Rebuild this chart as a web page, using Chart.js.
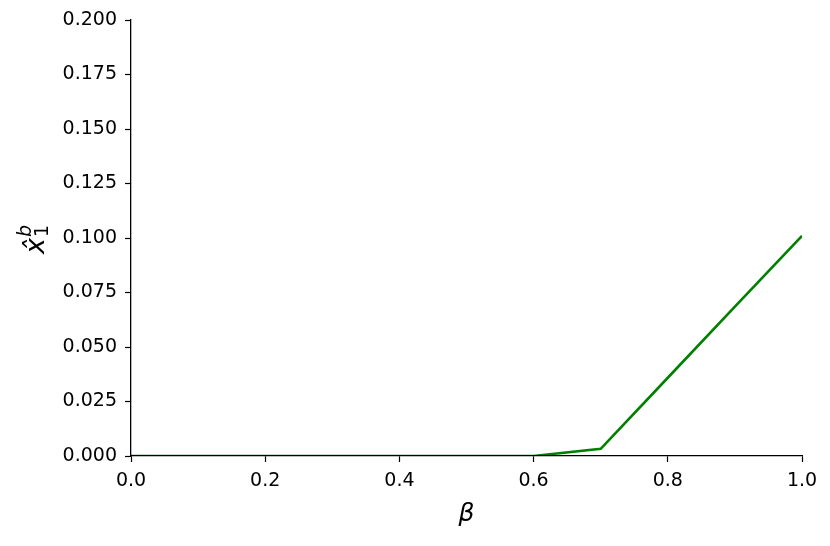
<!DOCTYPE html>
<html>
<head>
<meta charset="utf-8">
<script src="https://cdn.jsdelivr.net/npm/chart.js@4.4.0/dist/chart.umd.min.js"></script>
<style>
    html, body { margin: 0; padding: 0; background: #fff; }
    #wrap { width: 830px; height: 546px; }
</style>
</head>
<body>
<div id="wrap"><canvas id="betaChart" width="830" height="546"></canvas></div>
<script>
// 데이터
const betaValues = [0, 0.1, 0.2, 0.3, 0.4, 0.5, 0.6, 0.7, 0.8, 0.9, 1.0];
const xHat1b = [0, 0, 0, 0, 0, 0, 0, 0.0033, 0.0359, 0.0685, 0.1010];
const xTicks = [0, 0.2, 0.4, 0.6, 0.8, 1.0];
const yTicks = [0, 0.025, 0.05, 0.075, 0.1, 0.125, 0.15, 0.175, 0.2];

const FONT = "'DejaVu Sans', sans-serif";

// 축 제목 (수식 스타일) 그리기
const axisTitles = {
    id: 'axisTitles',
    afterDraw(chart) {
        const ctx = chart.ctx;
        const area = chart.chartArea;
        ctx.save();
        ctx.fillStyle = '#000';
        ctx.textBaseline = 'alphabetic';

        // x축: beta
        ctx.font = 'oblique 25px ' + FONT;
        ctx.textAlign = 'center';
        ctx.fillText('\u03b2', (area.left + area.right) / 2, 521);

        // y축: x hat, 아래첨자 1, 위첨자 b
        const cy = (area.top + area.bottom) / 2;
        ctx.translate(44, cy + 16);
        ctx.rotate(-Math.PI / 2);
        ctx.textAlign = 'left';
        ctx.font = 'oblique 27px ' + FONT;
        ctx.fillText('x\u0302', 0, 0);
        const w = ctx.measureText('x').width;
        ctx.font = '19px ' + FONT;
        ctx.fillText('1', w + 1, 4);
        ctx.font = 'oblique 19px ' + FONT;
        ctx.fillText('b', w + 1, -13);
        ctx.restore();
    }
};

const ctx = document.getElementById('betaChart').getContext('2d');
new Chart(ctx, {
    type: 'line',
    data: {
        datasets: [{
            data: betaValues.map((b, i) => ({ x: b, y: xHat1b[i] })),
            borderColor: '#008000',
            borderWidth: 2.6,
            pointRadius: 0,
            tension: 0,
            fill: false
        }]
    },
    options: {
        responsive: false,
        animation: false,
        layout: { padding: { left: 0, top: 20, right: 28, bottom: 0 } },
        plugins: {
            legend: { display: false },
            tooltip: { enabled: false }
        },
        scales: {
            x: {
                type: 'linear',
                min: 0,
                max: 1,
                afterFit: function(scale) { scale.height = 90; },
                afterBuildTicks: function(scale) {
                    scale.ticks = xTicks.map(v => ({ value: v }));
                },
                grid: {
                    drawOnChartArea: false,
                    drawTicks: true,
                    tickLength: 6,
                    tickWidth: 1.2,
                    tickColor: '#000'
                },
                border: { display: true, color: '#000', width: 1.3, z: 1 },
                ticks: {
                    color: '#000',
                    padding: 8,
                    maxRotation: 0,
                    autoSkip: false,
                    font: { family: FONT, size: 19 },
                    callback: function(value) { return value.toFixed(1); }
                }
            },
            y: {
                type: 'linear',
                min: 0,
                max: 0.2,
                afterFit: function(scale) { scale.width = 131; },
                afterBuildTicks: function(scale) {
                    scale.ticks = yTicks.map(v => ({ value: v }));
                },
                grid: {
                    drawOnChartArea: false,
                    drawTicks: true,
                    tickLength: 6,
                    tickWidth: 1.2,
                    tickColor: '#000'
                },
                border: { display: true, color: '#000', width: 1.3, z: 1 },
                ticks: {
                    color: '#000',
                    padding: 8,
                    autoSkip: false,
                    font: { family: FONT, size: 19 },
                    callback: function(value) { return value.toFixed(3); }
                }
            }
        }
    },
    plugins: [axisTitles]
});
</script>
</body>
</html>
